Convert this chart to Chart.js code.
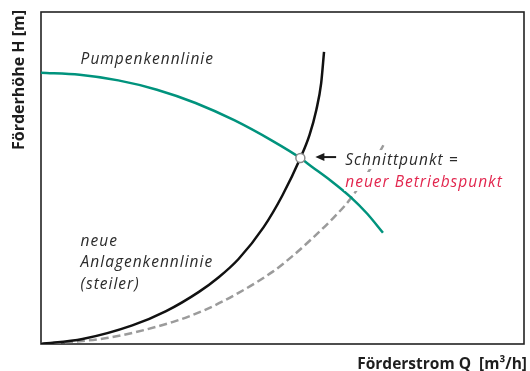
<!DOCTYPE html>
<html>
<head>
<meta charset="utf-8">
<script src="https://cdn.jsdelivr.net/npm/chart.js@4/dist/chart.umd.min.js"></script>
<style>
  html, body { margin: 0; padding: 0; background: #fff; }
  #wrap { width: 530px; height: 371px; }
</style>
</head>
<body>
<div id="wrap"><canvas id="kennlinien"></canvas></div>
<script>
// Axes run 0..100 (relative Q and H, no tick labels)

// Pumpenkennlinie (green)
const pumpQ = [0, 8, 16, 24, 32, 40, 48, 53.7, 56, 60, 64, 67.5, 70.8];
const pumpH = [81.7, 81.1, 79.4, 76.6, 72.6, 67.4, 61.1, 56.0, 53.5, 49.2, 44.4, 39.3, 33.5];

// neue Anlagenkennlinie, steiler (black)
const neuQ = [0, 8.6, 18.9, 25.9, 32.7, 36.8, 40.9, 46.1, 50, 53.7, 55.6, 57.0, 58.0, 58.6];
const neuH = [0, 1.5, 5.6, 9.9, 15.7, 20.1, 25.6, 35.2, 44.8, 56.0, 63.0, 70.5, 78.5, 88.0];

// alte Anlagenkennlinie (grey dashed)
const altQ = [0, 13.6, 27.2, 34, 40.9, 48, 52, 56, 60, 64, 67.7, 70.9];
const altH = [0, 1.8, 6.6, 10.3, 15.4, 21.8, 26.4, 31.6, 37.2, 43.6, 51.6, 59.9];

// Schnittpunkt
const schnittQ = [53.7];
const schnittH = [56.0];

const AXIS_MIN = 0;
const AXIS_MAX = 100;

const X_TITLE = 'Förderstrom Q  [m³/h]';
const Y_TITLE = 'Förderhöhe H [m]';

const TEXT_COLOR  = '#2b2b2b';
const TITLE_COLOR = '#1e1e1e';
const RED         = '#e2264e';
const GREEN       = '#00937d';
const FONT        = "'Open Sans', 'DejaVu Sans', sans-serif";

const toPoints = (qs, hs) => qs.map((q, i) => ({ x: q, y: hs[i] }));

// Frame round the plot area
const framePlugin = {
  id: 'frame',
  beforeDatasetsDraw(chart) {
    const { ctx, chartArea: a } = chart;
    ctx.save();
    ctx.strokeStyle = '#222';
    ctx.lineWidth = 1.6;
    ctx.strokeRect(a.left, a.top, a.right - a.left, a.bottom - a.top);
    ctx.restore();
  },
};

// Axis titles, curve labels and the arrow pointing at the operating point
const labelPlugin = {
  id: 'labels',
  afterDatasetsDraw(chart) {
    const { ctx, chartArea: a } = chart;
    const xs = chart.scales.x;
    const ys = chart.scales.y;
    const px = (v) => xs.getPixelForValue(v);
    const py = (v) => ys.getPixelForValue(v);

    ctx.save();

    // axis titles
    ctx.fillStyle = TITLE_COLOR;
    ctx.textBaseline = 'alphabetic';
    ctx.textAlign = 'right';
    ctx.font = `bold 15.5px ${FONT}`;
    ctx.fillText(X_TITLE, a.right + 3, chart.height - 2);

    ctx.font = `bold 16px ${FONT}`;
    ctx.save();
    ctx.translate(24, a.top - 2);
    ctx.rotate(-Math.PI / 2);
    ctx.fillText(Y_TITLE, 0, 0);
    ctx.restore();

    // curve labels
    ctx.font = `italic 15.5px ${FONT}`;
    ctx.letterSpacing = '1px';
    ctx.textAlign = 'left';

    const text = (str, q, h, color, knockout) => {
      const x = px(q), y = py(h);
      if (knockout) {
        const w = ctx.measureText(str).width;
        ctx.fillStyle = '#fff';
        ctx.fillRect(x - 1, y - 15, w + 3, 19);
      }
      ctx.fillStyle = color;
      ctx.fillText(str, x, y);
    };

    text('Pumpenkennlinie', 8.2, 84.3, TEXT_COLOR);
    text('neue', 8.2, 29.6, TEXT_COLOR);
    text('Anlagenkennlinie', 8.2, 23.1, TEXT_COLOR);
    text('(steiler)', 8.2, 16.5, TEXT_COLOR);

    text('Schnittpunkt =', 63.0, 53.9, TEXT_COLOR, true);
    text('neuer Betriebspunkt', 63.0, 47.3, RED, true);

    // arrow
    const x0 = px(61.1), x1 = px(56.8), y = py(56.3);
    ctx.strokeStyle = '#1a1a1a';
    ctx.fillStyle = '#1a1a1a';
    ctx.lineWidth = 2;
    ctx.beginPath();
    ctx.moveTo(x0, y);
    ctx.lineTo(x1 + 6, y);
    ctx.stroke();
    ctx.beginPath();
    ctx.moveTo(x1, y);
    ctx.lineTo(x1 + 9, y - 4);
    ctx.lineTo(x1 + 9, y + 4);
    ctx.closePath();
    ctx.fill();
    ctx.restore();
  },
};

new Chart(document.getElementById('kennlinien'), {
  type: 'line',
  data: {
    datasets: [
      {
        // Schnittpunkt marker, drawn on top
        data: toPoints(schnittQ, schnittH),
        showLine: false,
        pointRadius: 4.5,
        pointBackgroundColor: '#fff',
        pointBorderColor: '#8a8a8a',
        pointBorderWidth: 1.5,
      },
      {
        label: 'Pumpenkennlinie',
        data: toPoints(pumpQ, pumpH),
        borderColor: GREEN,
        borderWidth: 2.5,
        pointRadius: 0,
        cubicInterpolationMode: 'monotone',
      },
      {
        label: 'neue Anlagenkennlinie',
        data: toPoints(neuQ, neuH),
        borderColor: '#111',
        borderWidth: 2.5,
        pointRadius: 0,
        cubicInterpolationMode: 'monotone',
      },
      {
        label: 'Anlagenkennlinie',
        data: toPoints(altQ, altH),
        borderColor: '#9b9b9b',
        borderWidth: 2.5,
        borderDash: [8, 4],
        pointRadius: 0,
        cubicInterpolationMode: 'monotone',
      },
    ],
  },
  options: {
    responsive:          true,
    maintainAspectRatio: false,
    animation:           false,
    layout: { padding: { top: 12, right: 3, left: 0, bottom: 0 } },
    plugins: {
      legend:  { display: false },
      tooltip: { enabled: false },
    },
    scales: {
      x: {
        type: 'linear',
        min: AXIS_MIN,
        max: AXIS_MAX,
        ticks:  { display: false },
        grid:   { display: false },
        border: { display: false },
        afterFit: (s) => { s.height = 27; },
      },
      y: {
        type: 'linear',
        min: AXIS_MIN,
        max: AXIS_MAX,
        ticks:  { display: false },
        grid:   { display: false },
        border: { display: false },
        afterFit: (s) => { s.width = 41; },
      },
    },
  },
  plugins: [framePlugin, labelPlugin],
});
</script>
</body>
</html>
